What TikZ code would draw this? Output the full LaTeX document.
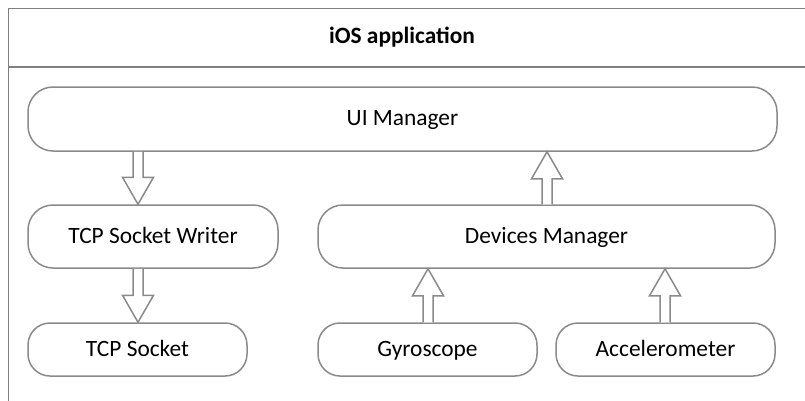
\documentclass[tikz,border=0pt]{standalone}
\usepackage{fontspec}
\setmainfont{Carlito}
\usetikzlibrary{calc}
\definecolor{edge}{HTML}{8A8A8A}
\definecolor{frame}{HTML}{808080}
\tikzset{
  box/.style={draw=edge, line width=1.5pt, fill=white, rounded corners=#1, inner sep=0pt, font=\fontsize{23.4}{28}\selectfont, text=black, text height=17pt, text depth=4pt},
  box/.default=25pt,
  blockarr/.style={draw=edge, line width=1.5pt, fill=white, line join=miter},
}
\newcommand{\blockarrow}[2]{%
  \path[blockarr] ($(#1)!5pt!90:(#2)$) -- ($($(#2)!27pt!(#1)$)!5pt!-90:(#1)$)
    -- ($($(#2)!27pt!(#1)$)!15.5pt!-90:(#1)$) -- (#2)
    -- ($($(#2)!27pt!(#1)$)!15.5pt!90:(#1)$) -- ($($(#2)!27pt!(#1)$)!5pt!90:(#1)$)
    -- ($(#1)!5pt!-90:(#2)$);}
\begin{document}
\begin{tikzpicture}[x=1pt,y=-1pt]
\useasboundingbox (0,0) rectangle (805,400);
\begin{scope}
\clip (0,0) rectangle (805,400);
\draw[frame, line width=1.5pt] (8.5,8.5) rectangle (830,430);
\draw[frame, line width=1.5pt] (8.5,67) -- (830,67);
\end{scope}
\node[font=\fontsize{23.4}{28}\selectfont\bfseries, text height=17pt, text depth=4pt, inner sep=0pt] (title) at (402,37) {iOS application};
\node[box, minimum width=749pt, minimum height=64pt] (ui) at (402.5,119) {UI Manager};
\node[box, minimum width=250pt, minimum height=63pt] (tw) at (153,236.5) {TCP Socket Writer};
\node[box, minimum width=457pt, minimum height=63pt] (dm) at (546.5,236.5) {Devices Manager};
\node[box=22pt, minimum width=219pt, minimum height=53pt] (ts) at (137.5,349.5) {TCP Socket};
\node[box=22pt, minimum width=219pt, minimum height=53pt] (gy) at (427.5,349.5) {Gyroscope};
\node[box=22pt, minimum width=219pt, minimum height=53pt] (ac) at (665.5,349.5) {Accelerometer};
\coordinate (xa) at (138,0);
\coordinate (xb) at (547,0);
\coordinate (xc) at (428,0);
\coordinate (xd) at (665,0);
\coordinate (a1s) at (ui.south -| xa);
\coordinate (a1t) at (tw.north -| xa);
\coordinate (a2s) at (tw.south -| xa);
\coordinate (a2t) at (ts.north -| xa);
\coordinate (a3s) at (dm.north -| xb);
\coordinate (a3t) at (ui.south -| xb);
\coordinate (a4s) at (gy.north -| xc);
\coordinate (a4t) at (dm.south -| xc);
\coordinate (a5s) at (ac.north -| xd);
\coordinate (a5t) at (dm.south -| xd);
\blockarrow{a1s}{a1t}
\blockarrow{a2s}{a2t}
\blockarrow{a3s}{a3t}
\blockarrow{a4s}{a4t}
\blockarrow{a5s}{a5t}
\end{tikzpicture}
\end{document}
